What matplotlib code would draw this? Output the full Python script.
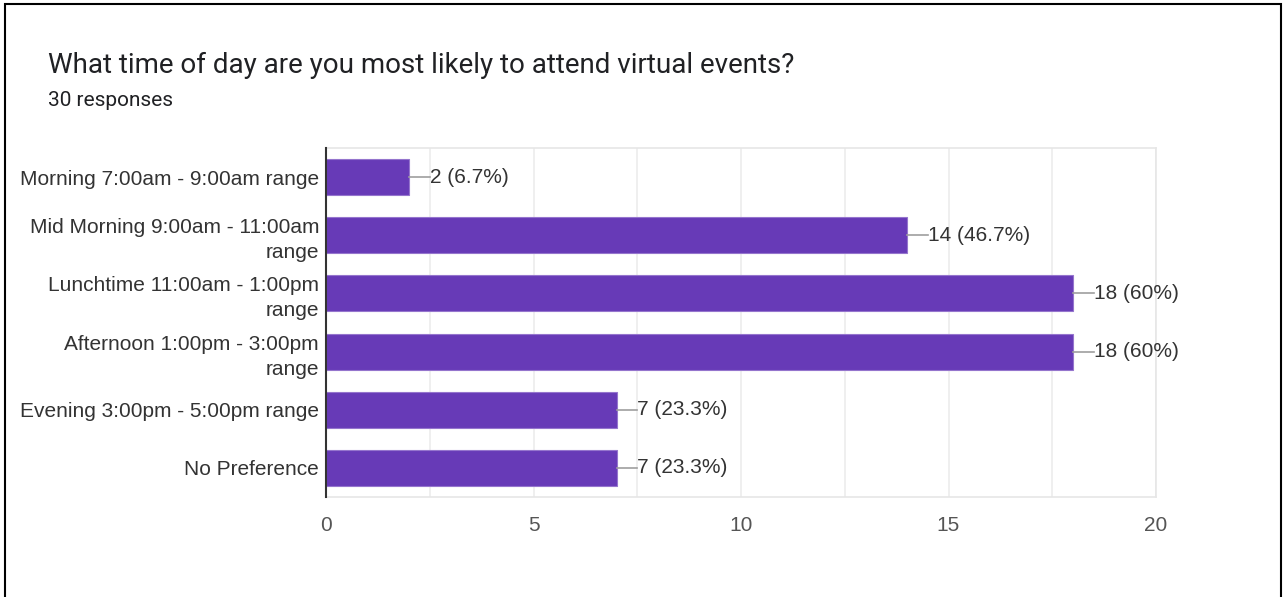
import numpy as np
import matplotlib.pyplot as plt
from matplotlib.patches import Rectangle

# survey data
categories = [
    "Morning 7:00am - 9:00am range",
    "Mid Morning 9:00am - 11:00am\nrange",
    "Lunchtime 11:00am - 1:00pm\nrange",
    "Afternoon 1:00pm - 3:00pm\nrange",
    "Evening 3:00pm - 5:00pm range",
    "No Preference",
]
counts = [2, 14, 18, 18, 7, 7]
percents = ["6.7%", "46.7%", "60%", "60%", "23.3%", "23.3%"]
xticks = [0, 5, 10, 15, 20]

plt.rcParams['font.family'] = ['Liberation Sans', 'DejaVu Sans']

fig = plt.figure(figsize=(12.83, 5.97), dpi=100)
ax = fig.add_axes([326 / 1283, 1 - 497 / 597, 830 / 1283, 349 / 597])

y = np.arange(len(categories))
ax.barh(y, counts, height=0.62, color='#673ab7', edgecolor='#9575cd',
        linewidth=0.8, zorder=3)

# value labels with short leader lines
for yi, c, p in zip(y, counts, percents):
    ax.plot([c, c + 0.5], [yi, yi], color='#9e9e9e', lw=1.2, zorder=3)
    ax.text(c + 0.5, yi, f"{c} ({p})", va='center', ha='left',
            fontsize=15, color='#333333', zorder=4)

ax.set_xlim(0, 20)
ax.set_ylim(len(categories) - 0.5, -0.5)
ax.set_xticks(xticks)
ax.set_xticks(np.arange(0, 20.1, 2.5), minor=True)
ax.set_yticks(y)
ax.set_yticklabels(categories, fontsize=15, color='#333333', ha='right',
                   linespacing=1.4)
ax.tick_params(axis='both', which='both', length=0)
ax.tick_params(axis='x', which='major', labelsize=15, labelcolor='#555555', pad=14)
ax.tick_params(axis='y', pad=5)
ax.grid(axis='x', which='both', color='#ececec', lw=1.2, zorder=0)

for s in ['top', 'right', 'bottom']:
    ax.spines[s].set_color('#e6e6e6')
    ax.spines[s].set_linewidth(1.2)
ax.spines['left'].set_color('#333333')
ax.spines['left'].set_linewidth(1.5)
ax.spines['left'].set_zorder(5)

fig.text(48 / 1283, 1 - 65 / 597, "What time of day are you most likely to attend virtual events?",
         fontsize=20, color='#202124', family=['Roboto', 'DejaVu Sans'], va='center')
fig.text(48 / 1283, 1 - 100 / 597, "30 responses", fontsize=15, color='#202124',
         family=['Roboto', 'DejaVu Sans'], va='center')

# screenshot border
fig.patches.append(Rectangle((5 / 1283, -0.02), 1276 / 1283, 1.02 - 4 / 597,
                             transform=fig.transFigure, fill=False,
                             edgecolor='black', lw=1.5))

fig.savefig('out.png', dpi=100)
